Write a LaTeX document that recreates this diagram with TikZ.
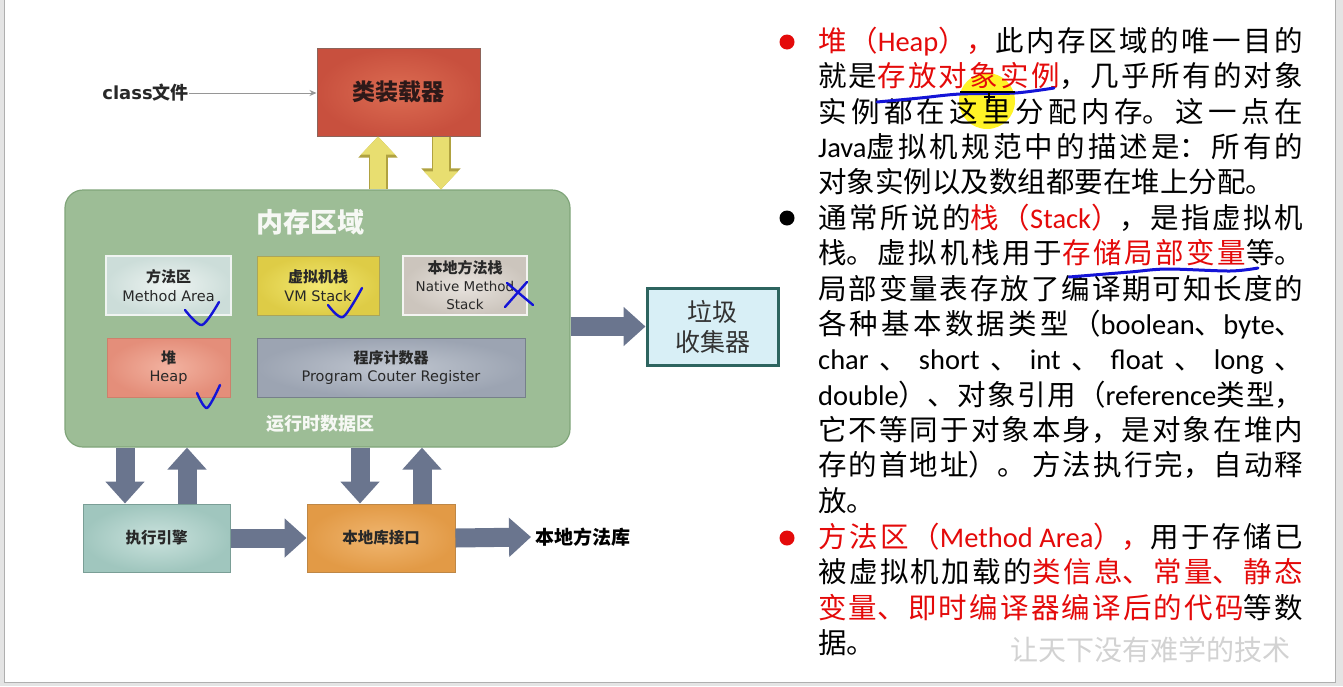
\documentclass[tikz,border=0pt]{standalone}
\usepackage{fontspec}
\setsansfont{DejaVu Sans}
\newfontfamily\cjk{Noto Sans CJK SC}
\newfontfamily\lat{Carlito}
\usetikzlibrary{arrows.meta, positioning, calc}
\XeTeXlinebreaklocale "zh"
\XeTeXlinebreakskip=0pt plus 40pt

\definecolor{slidegrey}{RGB}{228,228,228}
\definecolor{slideedge}{RGB}{175,175,175}
\definecolor{regiongreen}{RGB}{157,189,150}
\definecolor{regionedge}{RGB}{128,165,122}
\definecolor{boxtext}{RGB}{40,40,40}
\definecolor{thinarrow}{RGB}{150,150,150}
\definecolor{arrgrey}{RGB}{106,117,142}
\definecolor{yelfill}{RGB}{232,222,112}
\definecolor{yelline}{RGB}{176,162,64}
\definecolor{txtred}{RGB}{228,10,10}
\definecolor{penblue}{RGB}{20,20,215}
\definecolor{wmgrey}{RGB}{210,210,210}
% 方框颜色
\definecolor{loaderedge}{RGB}{140,100,90}
\definecolor{loaderin}{RGB}{220,108,82}
\definecolor{loaderout}{RGB}{200,80,62}
\definecolor{loadertext}{RGB}{45,25,25}
\definecolor{titlewhite}{RGB}{246,248,244}
\definecolor{maedge}{RGB}{240,244,242}
\definecolor{main}{RGB}{238,244,242}
\definecolor{maout}{RGB}{204,221,217}
\definecolor{vmsedge}{RGB}{170,165,90}
\definecolor{vmsin}{RGB}{242,232,112}
\definecolor{vmsout}{RGB}{222,204,70}
\definecolor{nmsedge}{RGB}{244,244,242}
\definecolor{nmsin}{RGB}{232,227,222}
\definecolor{nmsout}{RGB}{204,197,189}
\definecolor{heapedge}{RGB}{205,128,108}
\definecolor{heapin}{RGB}{242,178,160}
\definecolor{heapout}{RGB}{228,142,122}
\definecolor{pcredge}{RGB}{118,128,138}
\definecolor{pcrin}{RGB}{192,198,208}
\definecolor{pcrout}{RGB}{156,164,178}
\definecolor{gcedge}{RGB}{45,100,95}
\definecolor{gcfill}{RGB}{216,239,246}
\definecolor{gctext}{RGB}{50,50,50}
\definecolor{execedge}{RGB}{122,158,150}
\definecolor{execin}{RGB}{202,226,221}
\definecolor{execout}{RGB}{160,198,190}
\definecolor{nliedge}{RGB}{190,135,70}
\definecolor{nliin}{RGB}{240,182,112}
\definecolor{nliout}{RGB}{226,154,70}

\newcommand{\en}[1]{{\lat #1}}
\newcommand{\hl}[1]{\textcolor{txtred}{#1}}
\newcommand{\zh}[1]{{\cjk\bfseries\fontsize{15pt}{18pt}\selectfont #1}}

\begin{document}
\begin{tikzpicture}[x=1pt, y=-1pt,
    box/.style={draw, line width=1pt, inner sep=0pt, align=center, text=boxtext,
        font=\sffamily\fontsize{14.5pt}{18.5pt}\selectfont},
    fatgrey/.style={draw=arrgrey, line width=19pt, -{Triangle[length=22pt, width=38pt]}},
    fatyel/.style={draw=yelfill, line width=16pt, -{Triangle[length=18pt, width=33pt]},
        preaction={draw=yelline, line width=19pt, -{Triangle[length=21pt, width=38pt]}}},
    pen/.style={draw=penblue, line width=2.4pt, line cap=round, line join=round},
    para/.style={anchor=north west, inner sep=0pt, text width=485pt, align=justify,
        font=\cjk\fontsize{28.5pt}{35.3pt}\selectfont},
    dot/.style={circle, inner sep=0pt, minimum size=15pt}]
    \useasboundingbox (0,0) rectangle (1343,686);
    % 背景
    \fill[slidegrey] (0,0) rectangle (1343,686);
    \fill[white] (4,0) rectangle (1335,682);
    \draw[slideedge] (4,-1) -- (4,682) -- (1335,682) -- (1335,-1);

    % 类装载器
    \node[box, draw=loaderedge, inner color=loaderin, outer color=loaderout, minimum width=163pt,
        minimum height=88pt, font=\cjk\bfseries\fontsize{23pt}{23pt}\selectfont, text=loadertext]
        (loader) at (398.5,92) {类装载器};
    \node[anchor=east, inner sep=0pt, text=boxtext, font=\sffamily\bfseries\fontsize{18pt}{18pt}\selectfont]
        (cls) at (189,93) {class{\cjk 文件}};
    \draw[thinarrow, line width=1pt, -{Stealth[length=7pt, width=6pt]}] (cls.east) -- (cls.east -| loader.west);

    % 内存区域
    \node[draw=regionedge, line width=1.2pt, fill=regiongreen, rounded corners=18pt,
        minimum width=505pt, minimum height=257pt, inner sep=0pt] (region) at (317.5,318.5) {};
    \node[text=titlewhite, font=\cjk\bfseries\fontsize{27pt}{27pt}\selectfont] (title) at (310,222) {内存区域};
    \node[text=titlewhite, font=\cjk\bfseries\fontsize{18pt}{18pt}\selectfont] (runtime) at (320,424) {运行时数据区};

    \node[box, line width=2pt, draw=maedge, inner color=main, outer color=maout, minimum width=125pt,
        minimum height=59pt] (ma) at (168.5,285.5) {\zh{方法区}\\Method Area};
    \node[box, draw=vmsedge, inner color=vmsin, outer color=vmsout, minimum width=122pt,
        minimum height=59pt] (vms) at (318,285.5) {\zh{虚拟机栈}\\VM Stack};
    \node[box, line width=2pt, draw=nmsedge, inner color=nmsin, outer color=nmsout, minimum width=124pt,
        minimum height=59pt, font=\sffamily\fontsize{13.5pt}{18pt}\selectfont]
        (nms) at (465,285.5) {\zh{本地方法栈}\\Native Method\\Stack};
    \node[box, draw=heapedge, inner color=heapin, outer color=heapout, minimum width=123pt,
        minimum height=59pt] (heap) at (168.5,367.5) {\zh{堆}\\Heap};
    \node[box, draw=pcredge, inner color=pcrin, outer color=pcrout, minimum width=268pt,
        minimum height=59pt] (pcr) at (391,367.5) {\zh{程序计数器}\\Program Couter Register};

    % 垃圾收集器
    \node[box, line width=3pt, draw=gcedge, fill=gcfill, minimum width=131pt, minimum height=77pt,
        font=\cjk\fontsize{25pt}{30pt}\selectfont, text=gctext] (gc) at (712.5,326.5) {垃圾\\收集器};

    % 执行引擎 / 本地库接口
    \node[box, draw=execedge, inner color=execin, outer color=execout, minimum width=147pt, minimum height=68pt,
        font=\cjk\bfseries\fontsize{15.5pt}{15.5pt}\selectfont] (exec) at (156.5,538) {执行引擎};
    \node[box, draw=nliedge, inner color=nliin, outer color=nliout, minimum width=148pt, minimum height=68pt,
        font=\cjk\bfseries\fontsize{15.5pt}{15.5pt}\selectfont] (nli) at (381,538) {本地库接口};
    \node[anchor=west, inner sep=4pt, text=black, font=\cjk\bfseries\fontsize{19pt}{19pt}\selectfont]
        (lib) at (531,537) {本地方法库};

    % 箭头
    \draw[fatyel] ([xshift=-20.5]loader.south |- region.north) -- ([xshift=-20.5]loader.south);
    \draw[fatyel] ([xshift=42.5]loader.south) -- ([xshift=42.5]loader.south |- region.north);
    \draw[fatgrey] (region.east |- gc.west) -- (gc.west);
    \foreach \n/\dn/\up in {exec/-31.5/30.5, nli/-21/41} {
        \draw[fatgrey] ([xshift=\dn]\n.north |- region.south) -- ([xshift=\dn]\n.north);
        \draw[fatgrey] ([xshift=\up]\n.north) -- ([xshift=\up]\n.north |- region.south);
    }
    \draw[fatgrey] (exec.east) -- (nli.west);
    \draw[fatgrey] (nli.east) -- (lib.west);

    % 手写标记
    \draw[pen] plot[smooth, tension=0.5] coordinates {(185,310) (202,325) (219,302)};
    \draw[pen] plot[smooth, tension=0.5] coordinates {(328,305) (343,317) (362,288)};
    \draw[pen] plot[smooth, tension=0.5] coordinates {(197,393) (207,408) (220,385)};
    \draw[pen] (507,283) -- (533,305) (527,282) -- (505,307);

    % 右侧文字
    \fill[yellow, opacity=0.85] (987,101) circle (28);
    \node[dot, fill=txtred] (b1) at (787,42) {};
    \node[dot, fill=black] (b2) at (787,218) {};
    \node[dot, fill=txtred] (b3) at (787,538) {};
    \node[para] (p1) at (818,27) {\hl{堆（\en{Heap}），}此内存区域的唯一目的\linebreak
        就是\hl{存放对象实例}，几乎所有的对象\linebreak
        实例都在这里分配内存。这一点在\linebreak
        \en{Java}虚拟机规范中的描述是：所有的\linebreak
        对象实例以及数组都要在堆上分配。};
    \node[para] (p2) at (818,204) {通常所说的\hl{栈（\en{Stack}）}，是指虚拟机\linebreak
        栈。虚拟机栈用于\hl{存储局部变量}等。\linebreak
        局部变量表存放了编译期可知长度的\linebreak
        各种基本数据类型（\en{boolean}、\en{byte}、\linebreak
        \en{char} 、 \en{short} 、 \en{int} 、 \en{float} 、 \en{long} 、\linebreak
        \en{double}）、对象引用（\en{reference}类型，\linebreak
        它不等同于对象本身，是对象在堆内\linebreak
        存的首地址）。 方法执行完，自动释\linebreak
        放。};
    \node[para] (p3) at (818,523) {\hl{方法区（\en{Method Area}），}用于存储已\linebreak
        被虚拟机加载的\hl{类信息、常量、静态}\linebreak
        \hl{变量、即时编译器编译后的代码}等数\linebreak
        据。};
    \draw[pen, line width=3pt] plot[smooth] coordinates {(877,102) (920,98) (960,94) (1015,93) (1054,88)};
    \draw[black, line width=2.5pt] (960,92) -- (1015,92);
    \draw[black, line width=1.5pt] (989,92) -- (989,103) (984,97) -- (995,97);
    \draw[pen, line width=3pt] plot[smooth] coordinates {(1069,277) (1130,272) (1167,269) (1230,271) (1258,268)};
    \node[text=wmgrey, anchor=west, inner sep=0pt, font=\cjk\fontsize{28pt}{28pt}\selectfont]
        (wm) at (1010,650) {让天下没有难学的技术};
\end{tikzpicture}
\end{document}
